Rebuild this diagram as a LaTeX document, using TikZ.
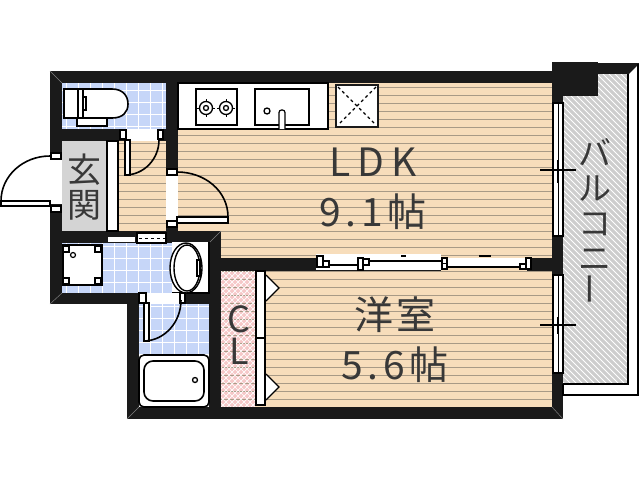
\documentclass[tikz,border=0pt]{standalone}
\usepackage{fontspec}
\setmainfont{Noto Sans CJK JP}
\usepackage{tikz}
\usepackage{xcolor}
\definecolor{wood-floor}{HTML}{F7DDBB}
\definecolor{wood-line}{HTML}{A89A86}
\definecolor{tile-floor}{HTML}{C6D6F8}
\definecolor{wall-black}{HTML}{1A1A1A}
\definecolor{entry-grey}{HTML}{D4D4D4}
\definecolor{closet-pink}{HTML}{F6C8C8}
\definecolor{balcony-grey}{HTML}{CDCDCD}
\definecolor{label-grey}{HTML}{383838}
\tikzset{
    wall-part/.style = {fill=wall-black, draw=none},
    fixture-box/.style = {draw=black, fill=white, line width=1.6pt},
    thin-frame/.style = {draw=black, fill=white, line width=1.2pt},
    door-frame/.style = {draw=black, fill=white, line width=2.2pt},
    door-swing/.style = {draw=black, line width=1.6pt},
    room-label/.style = {font=\fontsize{39}{42}\selectfont, text=label-grey, inner sep=0pt},
    stack-label/.style = {room-label, align=center},
}

\begin{document}
\begin{tikzpicture}[x=1pt, y=-1pt]
\useasboundingbox (0,0) rectangle (640,480);
% floors
\fill[wood-floor] (178,83) rectangle (552,258);
\fill[wood-floor] (221,258) rectangle (552,407);
\fill[wood-floor] (118,141) rectangle (166,231);
\fill[tile-floor] (62,83) rectangle (166,129);
\fill[tile-floor] (62,242) rectangle (209,293);
\fill[tile-floor] (139,304) rectangle (209,355);
\fill[entry-grey] (62,141) rectangle (107,231);
\fill[closet-pink] (221,271) rectangle (255,407);
\fill[balcony-grey] (563,74) rectangle (628,384);
% wood lines
\begin{scope}
\clip (178,83) rectangle (552,258) (221,258) rectangle (552,407) (118,141) rectangle (166,231);
\foreach \y in {87,95,...,407} {
    \draw[wood-line, line width=0.9pt] (118,\y) -- (552,\y);
}
\end{scope}
% tiles
\begin{scope}
\clip (62,83) rectangle (166,129) (62,242) rectangle (209,293) (139,304) rectangle (209,355);
\foreach \x in {66,78,...,210} {
    \draw[white, line width=0.9pt] (\x,83) -- (\x,355);
}
\foreach \y in {90,102,...,354} {
    \draw[white, line width=0.9pt] (62,\y) -- (209,\y);
}
\end{scope}
% closet and balcony hatching
\begin{scope}
\clip (221,271) rectangle (255,407);
\foreach \i in {-36,-30,...,138} {
    \draw[white, line width=0.7pt] (221,271+\i) -- (255,305+\i);
    \draw[white, line width=0.7pt] (221,305+\i) -- (255,271+\i);
}
\end{scope}
\begin{scope}
\clip (563,74) rectangle (628,384);
\foreach \i in {-70,-64,...,310} {
    \draw[white, line width=0.8pt] (563,74+\i) -- (628,139+\i);
}
\end{scope}
% walls
\fill[wall-part] (50,71) rectangle (563,83);
\fill[wall-part] (50,71) rectangle (62,304);
\fill[wall-part] (50,293) rectangle (209,304);
\fill[wall-part] (62,129) rectangle (166,141);
\fill[wall-part] (166,83) rectangle (178,231);
\fill[wall-part] (50,231) rectangle (221,243);
\fill[wall-part] (209,231) rectangle (221,407);
\fill[wall-part] (127,293) rectangle (139,419);
\fill[wall-part] (127,407) rectangle (563,419);
\fill[wall-part] (209,258) rectangle (552,271);
\fill[wall-part] (552,71) rectangle (563,419);
\fill[wall-part] (552,62) rectangle (598,96);
\fill[wall-part] (598,63) rectangle (639,74);
\draw[gray, line width=0.5pt] (50,71) -- (62,83) (221,231) -- (209,243) (50,304) -- (62,293) (127,419) -- (139,407) (563,419) -- (552,407);
% balcony edge
\draw[black, line width=1.6pt] (628,74) -- (628,384) -- (563,384);
\fill[white] (629,74) -- (637,66) -- (637,394) -- (629,394) -- cycle;
\fill[white] (564,385) rectangle (637,394);
\draw[black, line width=1.6pt] (638,64) -- (638,395) -- (563,395) -- (563,384);
% hall shelf strip
\draw[thin-frame] (107,141) rectangle (118,231);
% shoe rack above the washroom
\fill[white] (108,237) rectangle (135,242);
\draw[thin-frame] (137,233) rectangle (166,243);
\draw[black, dashed, line width=1pt] (139,238) -- (165,238);
% toilet
\draw[fixture-box] (64,89) -- (112,89) .. controls (123,89) and (128,96) .. (128,104) .. controls (128,112) and (123,118) .. (112,118) -- (64,118) -- cycle;
\draw[fixture-box, line width=1.2pt] (78,89) rectangle (83,118);
\draw[black, line width=1.2pt] (83,97) -- (86,97) -- (86,110) -- (83,110);
\draw[fixture-box] (77,118) rectangle (107,126);
% kitchen
\draw[fixture-box] (178,83) rectangle (328,129);
\draw[fixture-box] (196,89) rectangle (237,125);
\foreach \x in {206,226} {
    \draw[black, line width=1.3pt] (\x,108) circle (6.5pt) circle (2.5pt);
    \draw[black, line width=1pt] (\x,99) -- (\x,102) (\x,114) -- (\x,117) (\x-9,108) -- (\x-6,108) (\x+6,108) -- (\x+9,108);
}
\draw[fixture-box] (255,89) rectangle (309,125);
\draw[black, line width=1.3pt] (267,111) circle (3pt);
\draw[fixture-box, line width=1.2pt, rounded corners=2.5pt] (279,129) -- (279,110) -- (285,110) -- (285,129);
\draw[draw=wall-black, fill=white, line width=1.4pt] (336,85) rectangle (378,127);
\draw[black, dashed, line width=1.2pt] (338,87) -- (376,125) (376,87) -- (338,125);
% washer pan
\draw[fixture-box] (63,245) rectangle (102,285);
\foreach \x in {66,98} {
    \foreach \y in {249,281} {
        \draw[thin-frame] (\x-3,\y-3) rectangle (\x+3,\y+3);
    }
}
\draw[black, line width=1.2pt] (73,255) circle (2.5pt);
% basin
\fill[white] (172,242) rectangle (209,292);
\draw[black, line width=1.2pt] (209,242) -- (209,293) -- (172,293);
\draw[black, line width=1.4pt, fill=white] (186,268) ellipse [x radius=16, y radius=25];
\draw[black, line width=1.4pt] (187,268) ellipse [x radius=13, y radius=23];
\draw[thin-frame] (197,260) rectangle (200,276);
% bath
\draw[fixture-box, rounded corners=5pt] (139,355) rectangle (209,407);
\draw[fixture-box, rounded corners=9pt] (144,361) rectangle (204,401);
\draw[black, line width=1.3pt, fill=white] (195,380) circle (2.5pt);
% closet doors
\draw[thin-frame] (256,271) rectangle (265,338);
\draw[thin-frame] (256,338) rectangle (265,405);
\foreach \y in {288,387} {
    \draw[thin-frame] (266,\y-13) -- (279,\y) -- (266,\y+13);
}
% toilet door
\fill[white] (126,129) rectangle (158,141);
\draw[door-frame] (120,130) rectangle (126,139);
\draw[door-frame] (158,130) rectangle (163,139);
\draw[thin-frame] (125,140) rectangle (130,175);
\draw[door-swing] (125,175) .. controls (144,175) and (159,159) .. (159,140);
% entrance door
\fill[white] (50,160) rectangle (62,204);
\draw[door-frame] (51,153) rectangle (61,159);
\draw[door-frame] (51,206) rectangle (61,212);
\draw[thin-frame] (1,201) rectangle (50,206);
\draw[door-swing] (1,201) .. controls (1,176) and (23,156) .. (50,156);
% LDK door
\fill[white] (166,175) rectangle (178,220);
\draw[door-frame] (167,169) rectangle (177,175);
\draw[door-frame] (167,221) rectangle (177,227);
\draw[thin-frame] (177,217) rectangle (228,223);
\draw[door-swing] (177,172) .. controls (205,172) and (228,191) .. (228,217);
% bath door
\fill[white] (146,293) rectangle (180,304);
\draw[door-frame] (139,293) rectangle (146,303);
\draw[door-frame] (180,293) rectangle (185,303);
\draw[thin-frame] (144,303) rectangle (149,341);
\draw[door-swing] (145,341) .. controls (165,340) and (181,322) .. (181,300);
% sliding doors
\fill[white] (316,254) rectangle (441,270);
\fill[white] (441,258) rectangle (532,266);
\fill[wood-floor] (441,266) rectangle (532,271);
\fill[wall-black] (527,258) rectangle (532,271);
\draw[thin-frame] (317,256) rectangle (323,267);
\draw[thin-frame] (323,261) rectangle (329,267);
\draw[thin-frame] (358,258) rectangle (363,270);
\draw[thin-frame] (363,259) rectangle (369,265);
\draw[thin-frame] (442,258) rectangle (447,269);
\draw[black, line width=1pt] (442,263.5) -- (447,263.5);
\draw[thin-frame] (520,264) rectangle (526,269);
\draw[thin-frame] (526,258) rectangle (531,269);
\draw[black, line width=1.2pt] (329,265) -- (358,265) (369,261) -- (442,261) (447,267) -- (520,267);
\draw[black, line width=1.2pt] (401,256) -- (406,256) (479,256) -- (491,256);
% windows
\foreach \top/\bot in {103/236,275/373} {
    \draw[thin-frame, line width=1.8pt] (553,\top) rectangle (563,\bot);
    \draw[black, line width=0.8pt] (558,\top) -- (558,\bot);
}
\draw[black, line width=1.1pt] (540,170) -- (576,170) (558,160) -- (558,183);
\draw[black, line width=1.1pt] (540,325) -- (576,325) (558,317) -- (558,334);
% labels
\node[room-label] (ldk-name) at (373,162) {\addfontfeature{LetterSpace=17}LDK};
\node[room-label] (ldk-size) at (373,212) {\addfontfeature{LetterSpace=12}9.1帖};
\node[room-label] (room-name) at (395,315) {\addfontfeature{LetterSpace=8}洋室};
\node[room-label] (room-size) at (395,365) {\addfontfeature{LetterSpace=12}5.6帖};
\node[stack-label, font=\fontsize{34}{35}\selectfont] (entry-name) at (84.5,187) {玄\\関};
\node[stack-label, font=\fontsize{36}{32}\selectfont] (closet-name) at (239,335) {C\\L};
\node[stack-label, font=\fontsize{33}{35}\selectfont] (balcony-name) at (595,222) {バ\\ル\\コ\\ニ\\\rotatebox{90}{ー}};
\end{tikzpicture}
\end{document}
